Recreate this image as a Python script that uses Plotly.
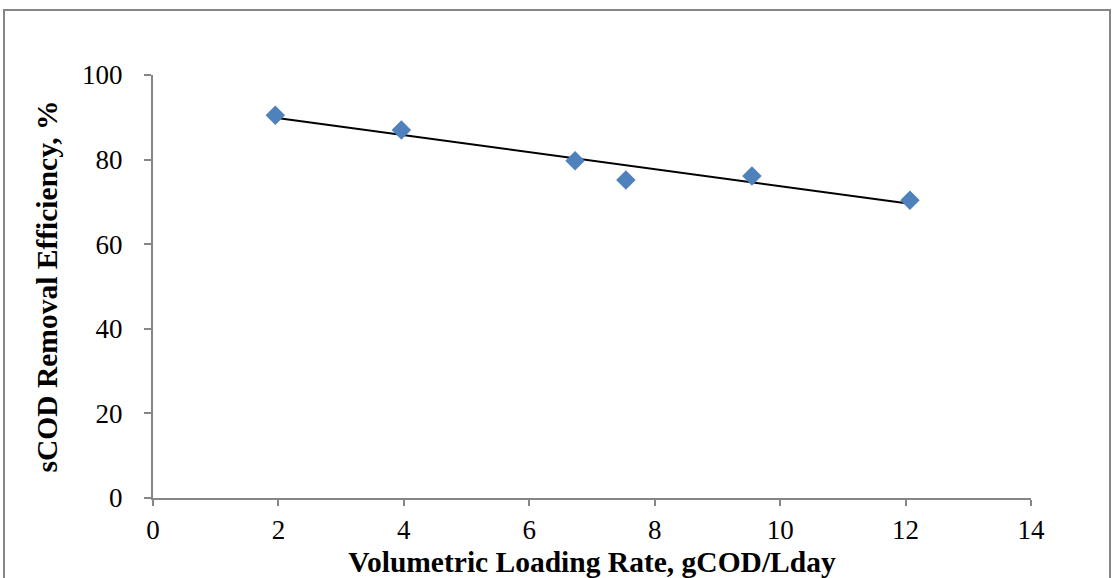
import numpy as np
import plotly.graph_objects as go

# Volumetric loading rate (gCOD/L·day) and soluble COD removal efficiency (%)
loading_rate = [1.95, 3.96, 6.73, 7.54, 9.55, 12.07]
removal_eff = [90.5, 87.0, 79.7, 75.2, 76.1, 70.4]

x_ticks = [0, 2, 4, 6, 8, 10, 12, 14]
y_ticks = [0, 20, 40, 60, 80, 100]

# Linear trend line through the measurements
slope, intercept = np.polyfit(loading_rate, removal_eff, 1)
trend_x = np.array([min(loading_rate), max(loading_rate)])
trend_y = slope * trend_x + intercept

axis_grey = "#868686"
serif = "Liberation Serif, Times New Roman, serif"

fig = go.Figure()
fig.add_trace(go.Scatter(
    x=trend_x, y=trend_y, mode="lines",
    line=dict(color="black", width=2),
    showlegend=False, hoverinfo="skip",
))
fig.add_trace(go.Scatter(
    x=loading_rate, y=removal_eff, mode="markers",
    marker=dict(symbol="diamond", size=15, color="#4F81BD",
                line=dict(width=0)),
    showlegend=False,
))

fig.update_layout(
    width=1112, height=578,
    margin=dict(l=153, r=81, t=75, b=80),
    paper_bgcolor="white", plot_bgcolor="white",
    font=dict(family=serif, color="black", size=27),
    xaxis=dict(
        range=[0, 14], tickvals=x_ticks, showgrid=False, zeroline=False,
        showline=True, linecolor=axis_grey, linewidth=2,
        ticks="outside", ticklen=6, tickcolor=axis_grey, tickwidth=2,
        tickfont=dict(size=27), ticklabelstandoff=1, automargin=False,
        title=dict(text="<b>Volumetric Loading Rate, gCOD/Lday</b>",
                   font=dict(size=29.5), standoff=22),
    ),
    yaxis=dict(
        range=[0, 100], tickvals=y_ticks, showgrid=False, zeroline=False,
        showline=True, linecolor=axis_grey, linewidth=2,
        ticks="outside", ticklen=7, tickcolor=axis_grey, tickwidth=2,
        tickfont=dict(size=27), ticklabelstandoff=16, automargin=False,
        title=dict(text="<b>sCOD Removal Efficiency, %</b>",
                   font=dict(size=29.5), standoff=16),
    ),
    shapes=[dict(
        type="rect", xref="paper", yref="paper",
        x0=(4 - 153) / 878, x1=(1110 - 153) / 878,
        y0=-0.3, y1=(498 - 10) / 423,
        line=dict(color=axis_grey, width=2), fillcolor="rgba(0,0,0,0)",
        layer="below",
    )],
)

fig.write_html("out.html")
